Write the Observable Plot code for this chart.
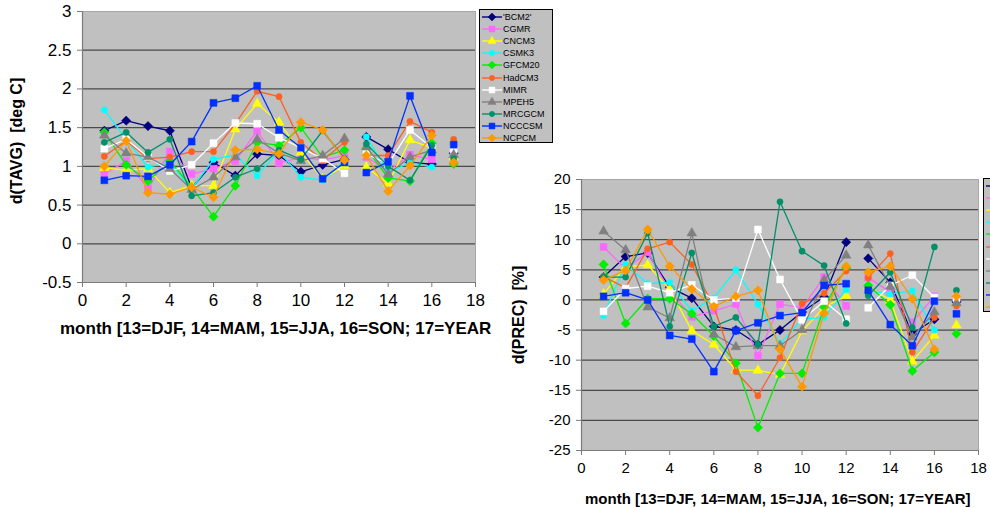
<!DOCTYPE html>
<html><head><meta charset="utf-8">
<script src="https://cdn.jsdelivr.net/npm/d3@7"></script>
<script src="https://cdn.jsdelivr.net/npm/@observablehq/plot@0.6"></script>
<style>
body{margin:0;background:#fff;overflow:hidden;font-family:"Liberation Sans",Arial,sans-serif;color:#000;}
#wrap{position:relative;width:990px;height:508px;overflow:hidden;background:#fff;}
.abs{position:absolute;}
.ylab{position:absolute;font-weight:bold;white-space:pre;transform:translate(-50%,-50%) rotate(-90deg);}
.xlab{position:absolute;font-weight:bold;white-space:pre;transform:translateY(-50%);}
.legend{position:absolute;background:#c0c0c0;border:1px solid #000;box-sizing:border-box;font-size:9px;padding-top:1px;}
.legend .row{height:12.1px;display:flex;align-items:center;white-space:nowrap;}
.legend svg{display:block;margin-left:2px;margin-right:1px;}
</style></head>
<body>
<div id="wrap">
  <div id="left" class="abs" style="left:0;top:0;width:480px;"></div>
  <div id="right" class="abs" style="left:530px;top:170px;width:460px;"></div>
  <div class="ylab" style="left:17px;top:141px;font-size:16px;">d(TAVG)  [deg C]</div>
  <div class="xlab" style="left:60px;top:329px;font-size:17px;">month [13=DJF, 14=MAM, 15=JJA, 16=SON; 17=YEAR</div>
  <div class="ylab" style="left:519px;top:315px;font-size:16px;">d(PREC)  [%]</div>
  <div class="xlab" style="left:585px;top:498px;font-size:15px;">month [13=DJF, 14=MAM, 15=JJA, 16=SON; 17=YEAR]</div>
  <div id="legL" class="legend" style="left:479px;top:9px;width:74px;height:134px;"></div>
  <div id="legR" class="legend" style="left:983px;top:178px;width:74px;height:134px;"></div>
</div>
<script>
const months = [1,2,3,4,5,6,7,8,9,10,11,12,13,14,15,16,17];
const seriesNames = ["'BCM2'","CGMR","CNCM3","CSMK3","GFCM20","HadCM3","MIMR","MPEH5","MRCGCM","NCCCSM","NCPCM"];
const seriesColors = ["#000080","#ff66ff","#ffff00","#00ffff","#00ee00","#ff6020","#ffffff","#808080","#00906a","#0030ff","#ff9900"];
const seriesSymbols = ["diamond2","square","triangle","circle","diamond2","circle","square","triangle","circle","square","diamond2"];

// d(TAVG) [deg C], months 1..17
const tavgBCM2   = [1.46,1.59,1.52,1.46,0.72,1.05,0.88,1.16,1.14,0.93,1.02,1.09,1.38,1.22,1.05,1.03,1.17];
const tavgCGMR   = [0.90,1.07,0.71,1.19,0.90,0.97,1.07,1.46,1.04,1.12,1.08,1.14,1.12,0.94,1.15,1.09,1.15];
const tavgCNCM3  = [0.98,0.95,0.97,0.66,0.75,0.75,1.48,1.81,1.57,1.18,0.84,1.01,0.99,0.78,1.34,1.24,1.12];
const tavgCSMK3  = [1.73,1.35,0.99,1.05,0.71,1.09,1.15,0.88,1.20,0.86,0.82,1.07,1.38,0.92,1.05,0.99,1.15];
const tavgGFCM20 = [1.44,1.02,0.81,1.07,0.73,0.35,0.75,1.31,1.27,1.50,1.12,1.21,1.23,0.85,0.81,1.30,1.03];
const tavgHadCM3 = [1.13,1.33,1.10,1.12,1.19,1.19,1.55,1.97,1.90,1.31,1.08,1.31,1.14,1.14,1.58,1.44,1.35];
const tavgMIMR   = [1.23,1.35,1.12,0.94,1.02,1.30,1.56,1.55,1.37,1.24,1.10,0.91,1.16,1.03,1.47,1.24,1.22];
const tavgMPEH5  = [1.40,1.17,1.12,0.97,0.70,0.86,1.12,1.35,1.17,1.07,1.14,1.36,1.25,0.90,1.12,1.21,1.15];
const tavgMRCGCM = [1.31,1.44,1.18,1.35,0.62,0.66,0.86,0.97,1.21,1.09,1.46,1.10,1.29,1.00,0.82,1.27,1.10];
const tavgNCCCSM = [0.82,0.88,0.87,1.02,1.32,1.82,1.88,2.04,1.47,1.24,0.84,1.05,0.92,1.06,1.91,1.18,1.28];
const tavgNCPCM  = [1.00,1.33,0.66,0.64,0.73,0.60,1.21,1.22,1.16,1.57,1.47,1.08,1.14,0.68,1.01,1.40,1.05];

// d(PREC) [%], months 1..17
const precBCM2   = [3.8,7.2,7.8,2.1,0.3,-4.4,-5.0,-7.4,-5.0,-2.0,0.5,9.6,6.9,2.9,-5.6,-3.2,-0.3];
const precCGMR   = [8.8,5.2,7.9,1.5,-2.8,-1.8,-0.7,-9.3,-0.7,-1.3,3.8,-1.0,3.7,1.3,-3.7,0.6,0.2];
const precCNCM3  = [1.0,5.5,5.8,1.8,-5.1,-7.4,-11.6,-11.7,-12.4,-5.2,-1.2,0.7,2.2,0.0,-10.2,-5.9,-4.2];
const precCSMK3  = [-2.6,5.9,2.7,2.9,-1.8,0.3,5.0,-0.7,-7.3,-3.2,-2.9,1.7,1.5,1.0,1.5,-5.0,-0.1];
const precGFCM20 = [5.9,-3.9,0.2,0.2,-2.3,-6.0,-10.5,-21.2,-12.2,-12.2,-1.2,5.3,2.4,-0.8,-11.8,-8.7,-5.6];
const precHadCM3 = [3.9,2.0,8.5,9.6,5.9,-1.1,-11.9,-15.9,-9.6,-0.6,1.1,4.8,3.7,7.7,-8.7,-2.9,-1.0];
const precMIMR   = [-1.9,1.9,2.3,1.2,2.5,0.0,0.3,11.7,3.4,-3.3,-0.2,-3.2,-1.3,2.4,4.1,0.4,0.3];
const precMPEH5  = [11.4,8.3,-1.2,-3.0,11.1,-5.7,-7.8,-7.6,-7.6,-5.0,3.3,7.4,9.1,2.2,-6.2,-2.0,-0.5];
const precMRCGCM = [3.8,3.8,11.1,-4.4,7.8,-4.4,-2.9,-7.4,16.3,8.1,5.7,-3.9,0.7,4.6,-4.6,8.8,1.6];
const precNCCCSM = [0.6,1.2,0.0,-5.9,-6.5,-11.9,-5.1,-3.8,-2.6,-2.1,2.4,2.7,1.6,-4.1,-7.6,-0.2,-2.3];
const precNCPCM  = [3.3,4.9,11.7,5.6,1.8,-1.1,0.6,1.6,-8.2,-14.4,-2.2,5.6,4.6,5.6,0.2,-8.2,0.6];

const xTicks = [0,2,4,6,8,10,12,14,16,18];
const tavgTicks = [-0.5,0,0.5,1,1.5,2,2.5,3];
const precTicks = [-25,-20,-15,-10,-5,0,5,10,15,20];

const tavgSeries = [tavgBCM2,tavgCGMR,tavgCNCM3,tavgCSMK3,tavgGFCM20,tavgHadCM3,tavgMIMR,tavgMPEH5,tavgMRCGCM,tavgNCCCSM,tavgNCPCM];
const precSeries = [precBCM2,precCGMR,precCNCM3,precCSMK3,precGFCM20,precHadCM3,precMIMR,precMPEH5,precMRCGCM,precNCCCSM,precNCPCM];

const symR = {diamond2:4.2, square:3.9, triangle:3.6, circle:3.1};

function rowsFor(values){
  return months.map((m,i)=>({month:m, v:values[i], seg: m<=12?0:(m<=16?1:2)}));
}

function chart(seriesVals, yTicks, o){
  const yDom = [yTicks[0], yTicks[yTicks.length-1]];
  const marks = [
    Plot.frame({fill:"#c0c0c0", stroke:"#a8a8a8"}),
    Plot.gridY(yTicks.slice(1,-1), {stroke:"#4a4a4a", strokeOpacity:1, strokeWidth:1.2}),
    Plot.ruleX([0], {stroke:"#7a7a7a", strokeWidth:1.2}),
    Plot.ruleY([yDom[0]], {stroke:"#7a7a7a", strokeWidth:1.2}),
    Plot.axisX(xTicks, {tickSize:5, tickPadding:o.xPad, label:null, stroke:"#7a7a7a", fill:"#000", tickFormat:d=>String(d), fontSize:o.fs}),
    Plot.axisY(yTicks, {tickSize:5, tickPadding:o.yPad, label:null, stroke:"#7a7a7a", fill:"#000", tickFormat:d=>String(d), fontSize:o.fs})
  ];
  seriesVals.forEach((vals,k)=>{
    const rows = rowsFor(vals);
    marks.push(Plot.line(rows, {x:"month", y:"v", z:"seg", stroke:seriesColors[k], strokeWidth:1.3}));
    marks.push(Plot.dot(rows, {x:"month", y:"v", symbol:seriesSymbols[k], r:symR[seriesSymbols[k]], fill:seriesColors[k], stroke:seriesColors[k], strokeWidth:0.5}));
  });
  return Plot.plot({
    width:o.width, height:o.height,
    marginLeft:o.ml, marginRight:o.mr, marginTop:o.mt, marginBottom:o.mb,
    x:{domain:[0,18]},
    y:{domain:yDom},
    style:{fontFamily:"'Liberation Sans', Arial, sans-serif", fontSize:o.fs+"px", color:"#000", background:"transparent", overflow:"visible"},
    marks
  });
}

document.getElementById("left").appendChild(
  chart(tavgSeries, tavgTicks, {width:480, height:310, ml:82, mr:5, mt:11, mb:28, fs:17, xPad:6, yPad:6}));
document.getElementById("right").appendChild(
  chart(precSeries, precTicks, {width:460, height:311, ml:51, mr:12, mt:9, mb:31, fs:15, xPad:7, yPad:6}));

function buildLegend(el, withText){
  seriesNames.forEach((name,k)=>{
    const row = document.createElement("div");
    row.className = "row";
    const svg = d3.create("svg").attr("width",20).attr("height",10);
    svg.append("line").attr("x1",0).attr("x2",20).attr("y1",5).attr("y2",5)
      .attr("stroke",seriesColors[k]).attr("stroke-width",1.4);
    const symMap = {diamond2:d3.symbolDiamond2, square:d3.symbolSquare, triangle:d3.symbolTriangle, circle:d3.symbolCircle};
    const r = symR[seriesSymbols[k]] * 0.85;
    svg.append("path").attr("transform","translate(10,5)")
      .attr("d", d3.symbol(symMap[seriesSymbols[k]], Math.PI*r*r)())
      .attr("fill",seriesColors[k]).attr("stroke",seriesColors[k]).attr("stroke-width",0.5);
    row.appendChild(svg.node());
    if (withText) {
      const t = document.createElement("span");
      t.textContent = name;
      row.appendChild(t);
    }
    el.appendChild(row);
  });
}
buildLegend(document.getElementById("legL"), true);
buildLegend(document.getElementById("legR"), false);
</script>
</body></html>
